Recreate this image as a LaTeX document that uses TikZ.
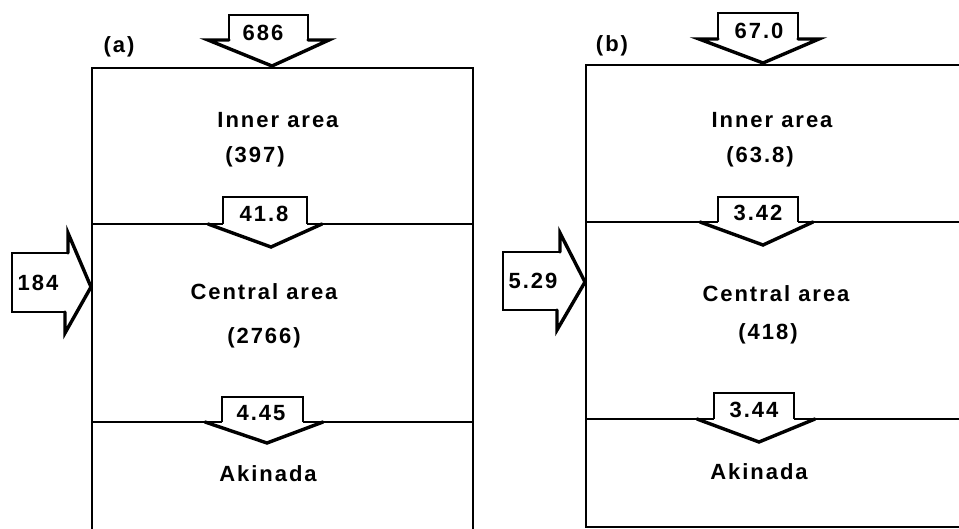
\documentclass[tikz,border=0pt]{standalone}
\usepackage{fontspec}
\newfontfamily\labfont{Liberation Sans}[UprightFont={* Bold},LetterSpace=9]
\begin{document}
\begin{tikzpicture}[x=1pt,y=-1pt,
  lab/.style={inner sep=0pt,font=\labfont\fontsize{22}{26}\selectfont},
  wall/.style={line width=2.8pt},
  abox/.style={line width=1.8pt,line join=miter},
  ahead/.style={line width=3.4pt,line join=miter,line cap=round}]
\useasboundingbox (0,0) rectangle (959,529);

% ---------------- Panel (a) ----------------
\coordinate (aTL) at (92,68);
\coordinate (aTR) at (473,68);
\coordinate (aBL) at (92,531);
\coordinate (aBR) at (473,531);
\draw[wall] (aBL) -- (aTL) -- (aTR) -- (aBR);
% dividers
\draw[wall] (92,224) -- (223,224);
\draw[wall] (307,224) -- (473,224);
\draw[wall] (92,422) -- (222,422);
\draw[wall] (303,422) -- (473,422);

% top arrow 686
\draw[abox] (229,40) -- (229,15) -- (308,15) -- (308,40);
\draw[ahead] (229,40) -- (208,40) -- (272,66) -- (329,40) -- (308,40);
\node[lab] (a686) at (263,33) {686};
% middle arrow 41.8
\draw[abox] (223,224) -- (223,197) -- (307,197) -- (307,224);
\draw[ahead] (208,224) -- (271,247) -- (322,224);
\node[lab] (a418) at (264,214) {41.8};
% bottom arrow 4.45
\draw[abox] (222,422) -- (222,397) -- (303,397) -- (303,422);
\draw[ahead] (205,422) -- (267,443) -- (323,422);
\node[lab] (a445) at (261,413) {4.45};
% left arrow 184
\draw[abox] (68,253) -- (12,253) -- (12,312) -- (65,312);
\draw[ahead] (68,253) -- (68,233) -- (91,287) -- (65,333) -- (65,312);
\node[lab] (a184) at (38,283) {184};

\node[lab] (alabel) at (119,47) {(a)};
\node[lab] (ainner) at (278,120) {Inner area};
\node[lab] (ainnerv) at (255,157) {(397)};
\node[lab] (acentral) at (264,292) {Central area};
\node[lab] (acentralv) at (264,338) {(2766)};
\node[lab] (aaki) at (268,474) {Akinada};

% ---------------- Panel (b) ----------------
\coordinate (bTL) at (586,65);
\coordinate (bTR) at (962,65);
\coordinate (bBL) at (586,527);
\coordinate (bBR) at (962,527);
\draw[wall] (bTR) -- (bTL) -- (bBL) -- (bBR);
\draw[wall] (586,222) -- (718,222);
\draw[wall] (798,222) -- (962,222);
\draw[wall] (586,419) -- (714,419);
\draw[wall] (794,419) -- (962,419);

% top arrow 67.0
\draw[abox] (718,39) -- (718,13) -- (798,13) -- (798,39);
\draw[ahead] (718,39) -- (699,39) -- (763,63) -- (819,39) -- (798,39);
\node[lab] (b670) at (759,31) {67.0};
% middle arrow 3.42
\draw[abox] (718,222) -- (718,197) -- (798,197) -- (798,222);
\draw[ahead] (700,222) -- (763,245) -- (813,222);
\node[lab] (b342) at (758,213) {3.42};
% bottom arrow 3.44
\draw[abox] (714,419) -- (714,393) -- (794,393) -- (794,419);
\draw[ahead] (697,419) -- (759,442) -- (815,419);
\node[lab] (b344) at (754,410) {3.44};
% left arrow 5.29
\draw[abox] (560,252) -- (503,252) -- (503,310) -- (557,310);
\draw[ahead] (560,252) -- (560,233) -- (585,282) -- (557,330) -- (557,310);
\node[lab] (b529) at (533,281) {5.29};

\node[lab] (blabel) at (612,46) {(b)};
\node[lab] (binner) at (772,120) {Inner area};
\node[lab] (binnerv) at (760,157) {(63.8)};
\node[lab] (bcentral) at (776,294) {Central area};
\node[lab] (bcentralv) at (768,334) {(418)};
\node[lab] (baki) at (759,472) {Akinada};
\end{tikzpicture}
\end{document}
